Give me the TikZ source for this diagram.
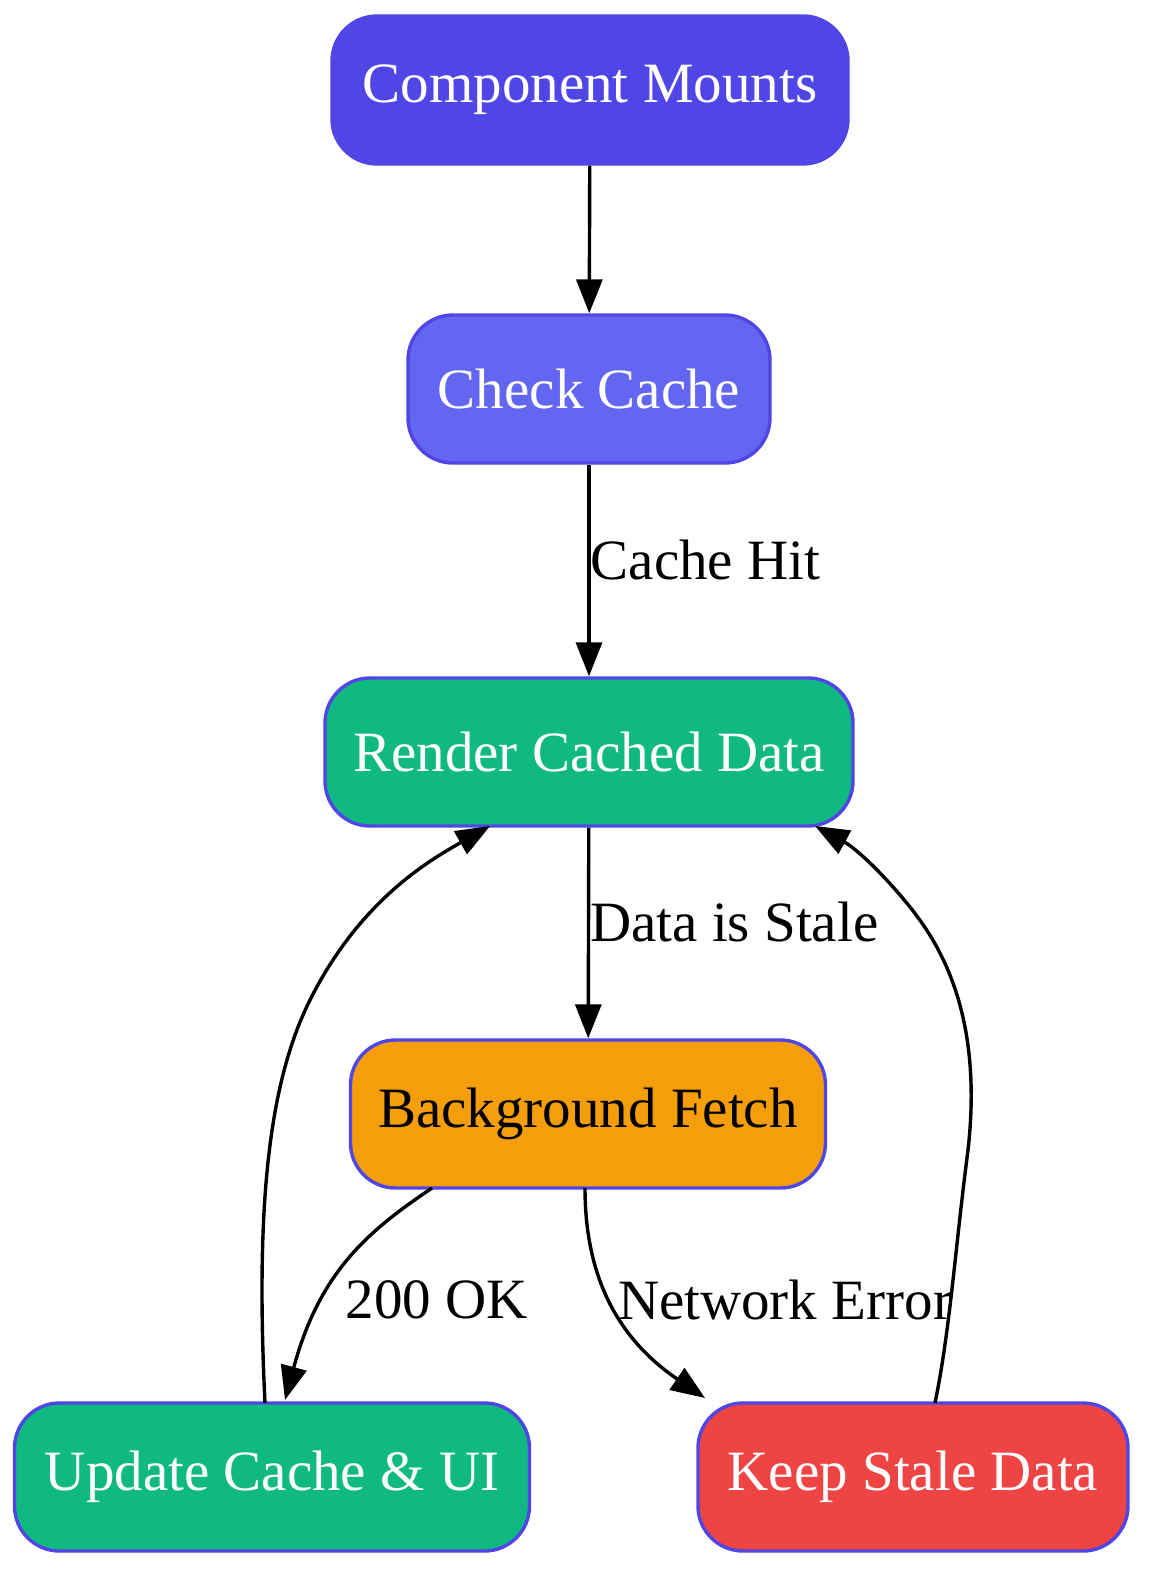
\documentclass[tikz,border=0pt]{standalone}
\usepackage{fontspec}
\setmainfont{Liberation Serif}
\usetikzlibrary{arrows.meta}
\definecolor{indigo}{HTML}{4F46E5}
\definecolor{violet}{HTML}{6366F1}
\definecolor{emerald}{HTML}{10B981}
\definecolor{amber}{HTML}{F59E0B}
\definecolor{redish}{HTML}{EF4444}
\begin{document}
\begin{tikzpicture}[x=1pt,y=-1pt,>={Triangle[length=34pt,width=26pt]},
                    every path/.style={line width=3.4pt},
                    main node/.style={rectangle,rounded corners=45pt,draw=indigo,
                      line width=3.4pt,minimum height=148pt,text=white,
                      font=\fontsize{57}{64}\selectfont},
                    lab/.style={font=\fontsize{57}{64}\selectfont}]
      \useasboundingbox (0,0) rectangle (1163,1594);
      \node[main node,fill=indigo,minimum width=516pt] (1) at (590,90) {Component Mounts};
      \node[main node,fill=violet,minimum width=362pt] (2) at (589,389) {Check Cache};
      \node[main node,fill=emerald,minimum width=528pt] (3) at (589,752) {Render Cached Data};
      \node[main node,fill=amber,minimum width=475pt,text=black] (4) at (588,1114) {Background Fetch};
      \node[main node,fill=emerald,minimum width=515pt] (5) at (272,1477) {Update Cache \& UI};
      \node[main node,fill=redish,minimum width=430pt] (6) at (913,1477) {Keep Stale Data};

      \draw[->] (1) -- (2);
      \draw[->] (2) -- node[lab,right,pos=0.45,inner sep=0pt] {Cache Hit} (3);
      \draw[->] (3) -- node[lab,right,pos=0.45,inner sep=0pt] {Data is Stale} (4);
      \coordinate (a) at (432,1188);
      \draw[->] (a) .. controls (370,1230) and (320,1270) .. (285,1400);
      \node[lab] (l1) at (437,1300) {200 OK};
      \draw[->] (585,1188) .. controls (585,1280) and (620,1340) .. (705,1398);
      \node[lab] (l2) at (785,1300) {Network Error};
      \draw[->] (265,1403) .. controls (255,1200) and (270,1080) .. (310,1000)
        .. controls (360,900) and (430,860) .. (490,826);
      \draw[->] (935,1403) .. controls (950,1330) and (955,1250) .. (968,1150)
        .. controls (985,1000) and (930,930) .. (900,895)
        .. controls (870,860) and (850,845) .. (815,826);
\end{tikzpicture}
\end{document}
